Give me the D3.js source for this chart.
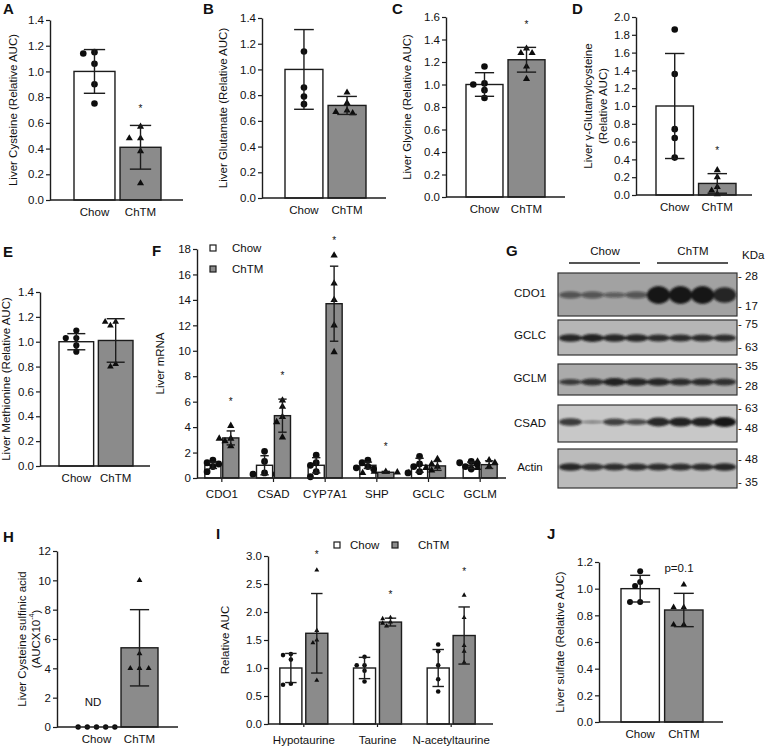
<!DOCTYPE html>
<html><head><meta charset="utf-8">
<script src="https://cdn.jsdelivr.net/npm/d3@7"></script>
<style>
body{margin:0;background:#fff}
svg{display:block}
text{font-family:"Liberation Sans",Arial,sans-serif;fill:#111}
</style>
</head><body>
<svg id="fig" width="766" height="747"></svg>
<script>
// ---------------- DATA ----------------
const groups = ["Chow", "ChTM"];

// A: Liver Cysteine
const cysteineMean = [1.00, 0.41];
const cysteineSD = [0.17, 0.17];
const cysteinePts = [[1.15, 1.14, 1.06, 0.90, 0.75], [0.57, 0.48, 0.48, 0.38, 0.13]];
const cysteineStar = [null, 0.72];

// B: Liver Glutamate
const glutamateMean = [1.00, 0.72];
const glutamateSD = [0.31, 0.07];
const glutamatePts = [[1.14, 0.86, 0.79, 0.73], [0.82, 0.74, 0.68, 0.67, 0.66]];

// C: Liver Glycine
const glycineMean = [1.00, 1.22];
const glycineSD = [0.105, 0.11];
const glycinePts = [[1.16, 1.01, 1.00, 0.95, 0.88], [1.32, 1.28, 1.28, 1.16, 1.05]];
const glycineStar = [null, 1.55];

// D: Liver gamma-Glutamylcysteine
const gluCysMean = [1.00, 0.13];
const gluCysSD = [0.59, 0.11];
const gluCysPts = [[1.86, 1.36, 0.74, 0.64, 0.42], [0.28, 0.20, 0.09, 0.05, 0.01]];
const gluCysStar = [null, 0.52];

// E: Liver Methionine
const methionineMean = [1.00, 1.01];
const methionineSD = [0.065, 0.175];
const methioninePts = [[1.09, 1.03, 1.03, 0.97, 0.92], [1.16, 1.16, 1.13, 0.82, 0.80]];

// F: Liver mRNA
const genes = ["CDO1", "CSAD", "CYP7A1", "SHP", "GCLC", "GCLM"];
const mrnaChowMean = [1.0, 1.0, 1.0, 1.0, 1.0, 1.0];
const mrnaChowSD = [0.25, 0.75, 0.6, 0.25, 0.55, 0.25];
const mrnaChtmMean = [3.15, 4.9, 13.7, 0.45, 0.95, 1.05];
const mrnaChtmSD = [0.55, 1.3, 2.95, 0.07, 0.35, 0.3];
const mrnaChowPts = [
  [1.4, 1.2, 1.1, 0.9, 0.5], [2.1, 1.3, 0.4, 0.3, 0.3], [1.8, 1.2, 1.0, 0.5, 0.1],
  [1.4, 1.2, 0.9, 0.8, 0.7], [1.7, 1.1, 0.9, 0.5, 0.4], [1.3, 1.2, 1.1, 0.9, 0.7]];
const mrnaChtmPts = [
  [4.1, 3.1, 3.1, 2.9, 2.5], [6.1, 5.6, 4.8, 4.4, 3.2], [17.5, 15.3, 14.0, 12.0, 9.9],
  [0.5, 0.5, 0.45, 0.4, 0.4], [1.5, 1.1, 0.9, 0.8, 0.6], [1.4, 1.3, 1.2, 0.9, 0.8]];
const mrnaStars = [6.1, 8.2, 18.8, 2.6, null, null];

// G: western blot
const blotProteins = ["CDO1", "GCLC", "GCLM", "CSAD", "Actin"];
const blotMarkers = [["28", "17"], ["75", "63"], ["35", "28"], ["63", "48"], ["48", "35"]];
const cdo1Bands = [0.32, 0.30, 0.22, 0.30, 1.0, 1.0, 1.0, 0.85];
const gclcBands = [0.85, 0.9, 0.85, 0.85, 0.8, 0.8, 0.8, 0.8];
const gclmBands = [0.6, 0.75, 0.9, 0.85, 0.85, 0.8, 0.8, 0.75];
const csadBands = [0.7, 0.12, 0.6, 0.5, 0.85, 0.9, 0.9, 1.0];
const actinBands = [0.85, 0.75, 0.8, 0.8, 0.8, 0.8, 0.8, 0.85];

// H: Liver Cysteine sulfinic acid
const sulfinicMean = [0, 5.4];
const sulfinicSD = [0, 2.6];
const sulfinicPts = [[0, 0, 0, 0, 0], [10.0, 5.0, 4.0, 4.0, 4.0]];

// I: Relative AUC
const metabolites = ["Hypotaurine", "Taurine", "N-acetyltaurine"];
const metChowMean = [1.0, 1.0, 1.0];
const metChowSD = [0.26, 0.19, 0.33];
const metChtmMean = [1.62, 1.82, 1.58];
const metChtmSD = [0.71, 0.07, 0.51];
const metChowPts = [[1.25, 1.23, 1.15, 0.72, 0.70], [1.20, 1.05, 1.05, 0.95, 0.76], [1.42, 1.30, 1.05, 0.80, 0.58]];
const metChtmPts = [[2.75, 1.67, 1.50, 1.45, 0.78], [1.90, 1.88, 1.82, 1.80, 1.75], [2.30, 1.90, 1.40, 1.30, 1.10]];
const metStars = [3.05, 2.34, 2.75];

// J: Liver sulfate
const sulfateMean = [1.00, 0.84];
const sulfateSD = [0.10, 0.125];
const sulfatePts = [[1.13, 1.05, 1.02, 0.90, 0.90], [1.03, 0.86, 0.86, 0.73, 0.73]];

// ---------------- DRAWING ----------------
const svg = d3.select("#fig");
svg.append("rect").attr("width", 766).attr("height", 747).attr("fill", "#fff");
const INK = "#1c1c1c";
const GRAY = "#8b8b8b";
const fills = {Chow: "#ffffff", ChTM: GRAY};
const shapes = {Chow: d3.symbolCircle, ChTM: d3.symbolTriangle};

function letter(t, x, y) {
  svg.append("text").attr("x", x).attr("y", y).attr("font-size", 15).attr("font-weight", "bold").text(t);
}

function yTitle(lines, xs, ymid, size) {
  lines.forEach((ln, i) => {
    const t = svg.append("text").attr("transform", `translate(${xs[i]},${ymid}) rotate(-90)`)
      .attr("text-anchor", "middle").attr("dy", "0.35em").attr("font-size", size || 11.5);
    if (Array.isArray(ln)) {
      ln.forEach(seg => {
        const ts = t.append("tspan").text(seg.t);
        if (seg.sup) ts.attr("font-size", 7).attr("dy", "-0.9em");
        if (seg.after) ts.attr("dy", "0.55em");
      });
    } else t.text(ln);
  });
}

function yAxis(y, axisX, max, step, fmt) {
  const ticks = d3.range(0, max + step / 2, step);
  const g = svg.append("g").attr("transform", `translate(${axisX},0)`)
    .call(d3.axisLeft(y).tickValues(ticks).tickFormat(d3.format(fmt)).tickSize(4).tickSizeOuter(0).tickPadding(2));
  g.select(".domain").attr("stroke", INK).attr("stroke-width", 1.4);
  g.selectAll(".tick line").attr("stroke", INK).attr("stroke-width", 1.2);
  g.selectAll(".tick text").attr("font-size", 11.5).attr("fill", "#111").attr("font-family", '"Liberation Sans",Arial,sans-serif');
}

function xAxis(scale, y0, axisX, axisEnd, tick, labelShift) {
  svg.append("line").attr("x1", axisX).attr("x2", axisEnd).attr("y1", y0).attr("y2", y0)
    .attr("stroke", INK).attr("stroke-width", 1.4);
  const g = svg.append("g").attr("transform", `translate(0,${y0})`)
    .call(d3.axisBottom(scale).tickSize(tick).tickSizeOuter(0).tickPadding(tick ? 12 - tick : 8));
  g.select(".domain").remove();
  g.selectAll(".tick line").attr("stroke", INK).attr("stroke-width", 1.2);
  g.selectAll(".tick text").attr("font-size", 11.5).attr("fill", "#111").attr("font-family", '"Liberation Sans",Arial,sans-serif');
}

function swarm(vals, y, cx, r) {
  const placed = [];
  const stepX = r * 1.7;
  return vals.map(v => {
    const py = y(v);
    for (let k = 0; k < 30; k++) {
      const off = k === 0 ? 0 : (k % 2 ? -1 : 1) * Math.ceil(k / 2) * stepX;
      const px = cx + off;
      if (placed.every(p => Math.hypot(p[0] - px, p[1] - py) >= 2 * r * 0.92)) {
        placed.push([px, py]);
        return [px, py];
      }
    }
    return [cx, py];
  });
}

// bars: [{x, w, mean, sd, pts, grp, star, noBar}]
function drawBars(y, bars, r) {
  bars.forEach(b => {
    if (!b.noBar) {
      svg.append("rect").attr("x", b.x).attr("y", y(b.mean)).attr("width", b.w)
        .attr("height", y(0) - y(b.mean)).attr("fill", fills[b.grp]).attr("stroke", INK).attr("stroke-width", 1.4);
    }
    const cx = b.x + b.w / 2;
    const pos = swarm(b.pts, y, cx, r);
    const isTri = b.grp === "ChTM";
    const a = 2.15 * r;
    const size = isTri ? Math.sqrt(3) / 4 * a * a : Math.PI * r * r;
    const sym = d3.symbol().type(shapes[b.grp]).size(size);
    pos.forEach(p => {
      svg.append("path").attr("d", sym()).attr("transform", `translate(${p[0]},${p[1]})`).attr("fill", "#0d0d0d");
    });
    if (b.sd > 0) {
      const cap = b.w * 0.52;
      const eb = svg.append("g").attr("stroke", INK).attr("stroke-width", 1.4);
      eb.append("line").attr("x1", cx).attr("x2", cx).attr("y1", y(b.mean - b.sd)).attr("y2", y(b.mean + b.sd));
      [b.mean - b.sd, b.mean + b.sd].forEach(v => {
        eb.append("line").attr("x1", cx - cap / 2).attr("x2", cx + cap / 2).attr("y1", y(v)).attr("y2", y(v));
      });
    }
    if (b.star != null) {
      svg.append("text").attr("x", cx).attr("y", y(b.star) + 5).attr("text-anchor", "middle")
        .attr("font-size", 10).text("*");
    }
  });
}

function simplePanel(cfg) {
  const y = d3.scaleLinear().domain([0, cfg.max]).range([cfg.y0, cfg.yTop]);
  const x = d3.scaleBand().domain(groups).range([cfg.barL, cfg.barR]).paddingInner(cfg.pad).paddingOuter(0);
  const bars = groups.map((g, i) => ({
    x: x(g), w: x.bandwidth(), mean: cfg.mean[i], sd: cfg.sd[i], pts: cfg.pts[i], grp: g,
    star: cfg.star ? cfg.star[i] : null, noBar: cfg.noBar && cfg.noBar[i]
  }));
  drawBars(y, bars, cfg.r);
  yAxis(y, cfg.axisX, cfg.max, cfg.step, cfg.fmt);
  xAxis(x, cfg.y0, cfg.axisX, cfg.axisEnd, 0);
  yTitle(cfg.title, cfg.titleX, (cfg.y0 + cfg.yTop) / 2);
  letter(cfg.letter, cfg.lx, cfg.ly);
  return {x, y};
}

// A
simplePanel({axisX: 50, axisEnd: 183, y0: 200, yTop: 20, max: 1.4, step: 0.2, fmt: ".1f",
  barL: 74, barR: 161, pad: 0.11, mean: cysteineMean, sd: cysteineSD, pts: cysteinePts, star: cysteineStar,
  r: 3.3, title: ["Liver Cysteine (Relative AUC)"], titleX: [13], letter: "A", lx: 3, ly: 14});
// B
simplePanel({axisX: 262, axisEnd: 386, y0: 198, yTop: 18, max: 1.4, step: 0.2, fmt: ".1f",
  barL: 285, barR: 366, pad: 0.12, mean: glutamateMean, sd: glutamateSD, pts: glutamatePts,
  r: 3.3, title: ["Liver Glutamate (Relative AUC)"], titleX: [223], letter: "B", lx: 203, ly: 14});
// C
simplePanel({axisX: 446, axisEnd: 565, y0: 197, yTop: 17, max: 1.6, step: 0.2, fmt: ".1f",
  barL: 466, barR: 545, pad: 0.12, mean: glycineMean, sd: glycineSD, pts: glycinePts, star: glycineStar,
  r: 3.3, title: ["Liver Glycine (Relative AUC)"], titleX: [407], letter: "C", lx: 392, ly: 14});
// D
simplePanel({axisX: 636, axisEnd: 752, y0: 195, yTop: 17, max: 2.0, step: 0.2, fmt: ".1f",
  barL: 656, barR: 736, pad: 0.12, mean: gluCysMean, sd: gluCysSD, pts: gluCysPts, star: gluCysStar,
  r: 3.3, title: ["Liver γ-Glutamylcysteine", "(Relative AUC)"], titleX: [588, 603], letter: "D", lx: 572, ly: 14});
// E
simplePanel({axisX: 40, axisEnd: 150, y0: 466, yTop: 292, max: 1.4, step: 0.2, fmt: ".1f",
  barL: 59, barR: 133, pad: 0.12, mean: methionineMean, sd: methionineSD, pts: methioninePts,
  r: 3.1, title: ["Liver Methionine (Relative AUC)"], titleX: [6], letter: "E", lx: 3, ly: 257});
// H
simplePanel({axisX: 57, axisEnd: 178, y0: 727, yTop: 551, max: 12, step: 2, fmt: "d",
  barL: 78, barR: 158, pad: 0.14, mean: sulfinicMean, sd: sulfinicSD, pts: sulfinicPts, noBar: [true, false],
  r: 2.7, title: ["Liver Cysteine sulfinic acid", [{t: "(AUCX10"}, {t: "-4", sup: true}, {t: ")", after: true}]],
  titleX: [22, 36], letter: "H", lx: 3, ly: 542});
svg.append("text").attr("x", 93).attr("y", 706).attr("text-anchor", "middle").attr("font-size", 11.5).text("ND");
// J
simplePanel({axisX: 599, axisEnd: 723, y0: 722, yTop: 562, max: 1.2, step: 0.2, fmt: ".1f",
  barL: 621, barR: 703, pad: 0.12, mean: sulfateMean, sd: sulfateSD, pts: sulfatePts,
  r: 3.0, title: ["Liver sulfate (Relative AUC)"], titleX: [560], letter: "J", lx: 547, ly: 539});
svg.append("text").attr("x", 679).attr("y", 572).attr("text-anchor", "middle").attr("font-size", 11.5).text("p=0.1");

// grouped panel helper
function groupedPanel(cfg) {
  const y = d3.scaleLinear().domain([0, cfg.max]).range([cfg.y0, cfg.yTop]);
  const xo = d3.scaleBand().domain(cfg.cats).range([cfg.gL, cfg.gR]).padding(0);
  const xi = d3.scaleBand().domain(groups).range([-cfg.half, cfg.half]).paddingInner(cfg.pad).paddingOuter(0);
  const bars = [];
  cfg.cats.forEach((c, i) => {
    const center = xo(c) + xo.bandwidth() / 2;
    groups.forEach((g, k) => {
      bars.push({x: center + xi(g), w: xi.bandwidth(), grp: g,
        mean: k ? cfg.chtmMean[i] : cfg.chowMean[i], sd: k ? cfg.chtmSD[i] : cfg.chowSD[i],
        pts: k ? cfg.chtmPts[i] : cfg.chowPts[i], star: k ? cfg.stars[i] : null});
    });
  });
  drawBars(y, bars, cfg.r);
  yAxis(y, cfg.axisX, cfg.max, cfg.step, cfg.fmt);
  xAxis(xo, cfg.y0, cfg.axisX, cfg.axisEnd, cfg.tick);
  yTitle(cfg.title, cfg.titleX, (cfg.y0 + cfg.yTop) / 2);
  letter(cfg.letter, cfg.lx, cfg.ly);
}

function legendItem(x, y, grp, tx) {
  svg.append("rect").attr("x", x).attr("y", y - 3).attr("width", 6).attr("height", 6)
    .attr("fill", fills[grp]).attr("stroke", INK).attr("stroke-width", 1.2);
  svg.append("text").attr("x", tx).attr("y", y + 4).attr("font-size", 11.5).text(grp);
}

// F
groupedPanel({axisX: 197, axisEnd: 506, y0: 478, yTop: 249, max: 18, step: 2, fmt: "d",
  cats: genes, gL: 196, gR: 506, half: 17, pad: 0.1, tick: 4,
  chowMean: mrnaChowMean, chowSD: mrnaChowSD, chtmMean: mrnaChtmMean, chtmSD: mrnaChtmSD,
  chowPts: mrnaChowPts, chtmPts: mrnaChtmPts, stars: mrnaStars, r: 3.4,
  title: ["Liver mRNA"], titleX: [160], letter: "F", lx: 152, ly: 256});
legendItem(210, 248, "Chow", 232);
legendItem(210, 269, "ChTM", 232);

// I
groupedPanel({axisX: 268, axisEnd: 493, y0: 724, yTop: 556, max: 3.0, step: 0.5, fmt: ".1f",
  cats: metabolites, gL: 267, gR: 488, half: 24, pad: 0.15, tick: 3,
  chowMean: metChowMean, chowSD: metChowSD, chtmMean: metChtmMean, chtmSD: metChtmSD,
  chowPts: metChowPts, chtmPts: metChtmPts, stars: metStars, r: 2.3,
  title: ["Relative AUC"], titleX: [225], letter: "I", lx: 216, ly: 539});
legendItem(334, 545, "Chow", 350);
legendItem(392, 545, "ChTM", 418);

// G: western blot
letter("G", 506, 256);
const defs = svg.append("defs");
defs.append("filter").attr("id", "blur").attr("x", "-20%").attr("y", "-50%").attr("width", "140%").attr("height", "200%")
  .append("feGaussianBlur").attr("stdDeviation", 1.3);
const lanes = d3.scaleBand().domain(d3.range(8)).range([559, 736]).padding(0.04);
svg.append("text").attr("x", 605).attr("y", 255).attr("text-anchor", "middle").attr("font-size", 11.5).text("Chow");
svg.append("text").attr("x", 693).attr("y", 255).attr("text-anchor", "middle").attr("font-size", 11.5).text("ChTM");
svg.append("line").attr("x1", 569).attr("x2", 640).attr("y1", 263).attr("y2", 263).attr("stroke", INK).attr("stroke-width", 1.5);
svg.append("line").attr("x1", 657).attr("x2", 728).attr("y1", 263).attr("y2", 263).attr("stroke", INK).attr("stroke-width", 1.5);
svg.append("text").attr("x", 742).attr("y", 259).attr("font-size", 11.5).text("KDa");

const blotLayout = [
  {y1: 273, y2: 316, cy: 295, bg: "#a2a2a2", ryMin: 1, ryMax: 9, mk: [276, 306], ly: 293},
  {y1: 320, y2: 355, cy: 338, bg: "#b6b6b6", ryMin: 1, ryMax: 4.2, mk: [324, 347], ly: 335},
  {y1: 364, y2: 395, cy: 382, bg: "#ababab", ryMin: 1, ryMax: 4.2, mk: [366, 386], ly: 378},
  {y1: 405, y2: 442, cy: 422, bg: "#c8c8c8", ryMin: 1, ryMax: 5, mk: [408, 428], ly: 423},
  {y1: 449, y2: 488, cy: 467, bg: "#bbbbbb", ryMin: 1, ryMax: 4.2, mk: [459, 482], ly: 467}
];
const blotBands = [cdo1Bands, gclcBands, gclmBands, csadBands, actinBands];
blotProteins.forEach((p, i) => {
  const L = blotLayout[i];
  svg.append("rect").attr("x", 558).attr("y", L.y1).attr("width", 179).attr("height", L.y2 - L.y1)
    .attr("fill", L.bg).attr("stroke", "#333").attr("stroke-width", 1.2);
  const bg = svg.append("g").attr("filter", "url(#blur)");
  blotBands[i].forEach((v, k) => {
    bg.append("ellipse").attr("cx", lanes(k) + lanes.bandwidth() / 2).attr("cy", L.cy)
      .attr("rx", lanes.bandwidth() / 2 + 1).attr("ry", L.ryMin + (L.ryMax - L.ryMin) * v)
      .attr("fill", "#151515").attr("opacity", 0.35 + 0.65 * v);
  });
  svg.append("text").attr("x", 530).attr("y", L.ly).attr("dy", "0.35em").attr("text-anchor", "middle")
    .attr("font-size", 11.5).text(p);
  blotMarkers[i].forEach((m, j) => {
    svg.append("text").attr("x", 738).attr("y", L.mk[j]).attr("dy", "0.35em").attr("font-size", 11.5).text("- " + m);
  });
});
</script>
</body></html>
